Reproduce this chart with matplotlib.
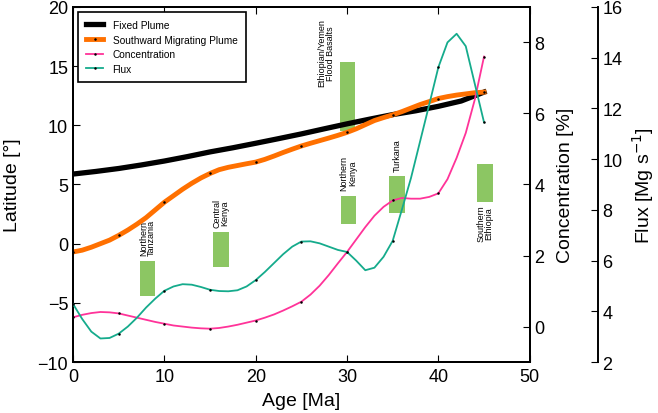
import matplotlib
matplotlib.use("Agg")
import matplotlib.pyplot as plt

plt.rcParams['font.family'] = ['Liberation Sans', 'DejaVu Sans']

# plume latitude vs age
fixed_age = [0, 2.5, 5, 7.5, 10, 12.5, 15, 17.5, 20, 22.5, 25, 27.5, 30, 32.5, 35, 37.5, 40, 42.5, 45]
fixed_lat = [5.88, 6.1, 6.35, 6.65, 6.98, 7.35, 7.75, 8.1, 8.48, 8.87, 9.27, 9.7, 10.12, 10.52, 10.9, 11.22, 11.6, 12.05, 12.8]

age = list(range(0, 46))
south_lat = [-0.70, -0.55, -0.30, 0.0, 0.30, 0.70, 1.15, 1.65, 2.2, 2.85,
             3.5, 4.05, 4.6, 5.1, 5.55, 5.93, 6.25, 6.45, 6.6, 6.75,
             6.89, 7.12, 7.4, 7.7, 7.98, 8.25, 8.48, 8.7, 8.92, 9.15,
             9.4, 9.7, 10.05, 10.4, 10.65, 10.88, 11.15, 11.45, 11.75, 12.0,
             12.26, 12.42, 12.55, 12.65, 12.75, 12.8]

# concentration [%]
conc = [0.26, 0.33, 0.38, 0.41, 0.40, 0.37, 0.31, 0.25, 0.19, 0.13,
        0.08, 0.03, 0.0, -0.03, -0.05, -0.06, -0.04, 0.0, 0.05, 0.11,
        0.17, 0.25, 0.34, 0.45, 0.57, 0.70, 0.90, 1.15, 1.45, 1.78,
        2.1, 2.45, 2.8, 3.12, 3.37, 3.55, 3.62, 3.6, 3.6, 3.65,
        3.75, 4.15, 4.75, 5.45, 6.4, 7.6]

# flux [Mg/s]
flux = [4.29, 3.7, 3.2, 2.93, 2.95, 3.12, 3.4, 3.75, 4.15, 4.5,
        4.81, 4.98, 5.07, 5.05, 4.96, 4.85, 4.8, 4.79, 4.83, 4.98,
        5.23, 5.55, 5.9, 6.25, 6.55, 6.75, 6.76, 6.68, 6.55, 6.42,
        6.34, 6.0, 5.62, 5.72, 6.15, 6.78, 8.0, 9.25, 10.7, 12.15,
        13.62, 14.6, 14.94, 14.45, 12.95, 11.45]

# volcanic provinces: label, age range, latitude range
prov_names = ['Northern\nTanzania', 'Central\nKenya', 'Northern\nKenya',
              'Ethiopian/Yemen\nFlood Basalts', 'Turkana', 'Southern\nEthiopia']
prov_age0 = [7.3, 15.3, 29.3, 29.2, 34.6, 44.2]
prov_age1 = [9.0, 17.1, 31.0, 30.9, 36.3, 46.0]
prov_lat0 = [-4.4, -2.0, 1.7, 9.5, 2.55, 3.55]
prov_lat1 = [-1.45, 0.95, 4.05, 15.35, 5.7, 6.7]

fig = plt.figure(figsize=(6.58, 4.14), dpi=100)
ax = fig.add_axes([0.111, 0.123, 0.694, 0.858])
ax2 = ax.twinx()
ax3 = ax.twinx()
ax3.spines['right'].set_position(('outward', 49))
for s in ['left', 'top', 'bottom']:
    ax3.spines[s].set_visible(False)

green = '#8cc663'
pfont = dict(rotation=90, fontsize=6.5, linespacing=0.9)
for i in range(len(prov_names)):
    ax.bar(prov_age0[i], prov_lat1[i] - prov_lat0[i], width=prov_age1[i] - prov_age0[i],
           bottom=prov_lat0[i], align='edge', color=green, zorder=0)
    xc = (prov_age0[i] + prov_age1[i]) / 2
    if prov_names[i].startswith('Southern'):
        ax.annotate(prov_names[i], (xc, prov_lat0[i]), xytext=(0, -2), textcoords='offset points',
                    ha='center', va='top', **pfont)
    elif prov_names[i].startswith('Ethiopian'):
        ax.annotate(prov_names[i], (27.7, 13.3), ha='center', va='bottom', **pfont)
    else:
        ax.annotate(prov_names[i], (xc, prov_lat1[i]), xytext=(0, 4), textcoords='offset points',
                    ha='center', va='bottom', **pfont)

mk5 = [i for i, a in enumerate(age) if a % 5 == 0]
mkf = [i for i, a in enumerate(fixed_age) if a % 5 == 0]
dots = dict(marker='.', ms=1.6, mfc='k', mec='k')
l1, = ax.plot(fixed_age, fixed_lat, color='black', lw=3.8, markevery=mkf,
              label='Fixed Plume', zorder=3, **dots)
l2, = ax.plot(age, south_lat, color='#ff7000', lw=3.5, markevery=mk5,
              label='Southward Migrating Plume', zorder=4, **dots)
l3, = ax2.plot(age, conc, color='#ff3399', lw=1.3, markevery=mk5,
               label='Concentration', **dots)
l4, = ax3.plot(age, flux, color='#15ab8c', lw=1.3, markevery=mk5,
               label='Flux', **dots)

ax.set_xlim(0, 50)
ax.set_ylim(-10, 20)
ax2.set_ylim(-1, 9)
ax3.set_ylim(2, 16)
ax.set_xticks([0, 10, 20, 30, 40, 50])
ax.set_yticks([-10, -5, 0, 5, 10, 15, 20])
ax2.set_yticks([0, 2, 4, 6, 8])
ax3.set_yticks([2, 4, 6, 8, 10, 12, 14, 16])

ax.set_xlabel('Age [Ma]', fontsize=14, labelpad=5)
ax.set_ylabel('Latitude [°]', fontsize=14, labelpad=12)
ax2.set_ylabel('Concentration [%]', fontsize=14, labelpad=9)
ax3.set_ylabel('Flux [Mg s$^{-1}$]', fontsize=14, labelpad=5)

ax.tick_params(axis='x', direction='in', top=True, length=5, labelsize=13, pad=4)
ax.tick_params(axis='y', direction='in', length=5, labelsize=13)
ax2.tick_params(axis='y', direction='in', length=5, labelsize=13)
ax3.tick_params(axis='y', direction='in', length=5, labelsize=13)
for a in [ax, ax2, ax3]:
    for s in a.spines.values():
        s.set_linewidth(1.4)

leg = ax.legend(handles=[l1, l2, l3, l4], loc='upper left', fontsize=7.3, fancybox=False,
                edgecolor='black', framealpha=1, handlelength=1.7, handletextpad=0.9,
                labelspacing=0.45, borderpad=0.8, borderaxespad=0.5)
leg.get_frame().set_linewidth(1.2)
leg.set_zorder(10)

fig.savefig('out.png', dpi=100)
